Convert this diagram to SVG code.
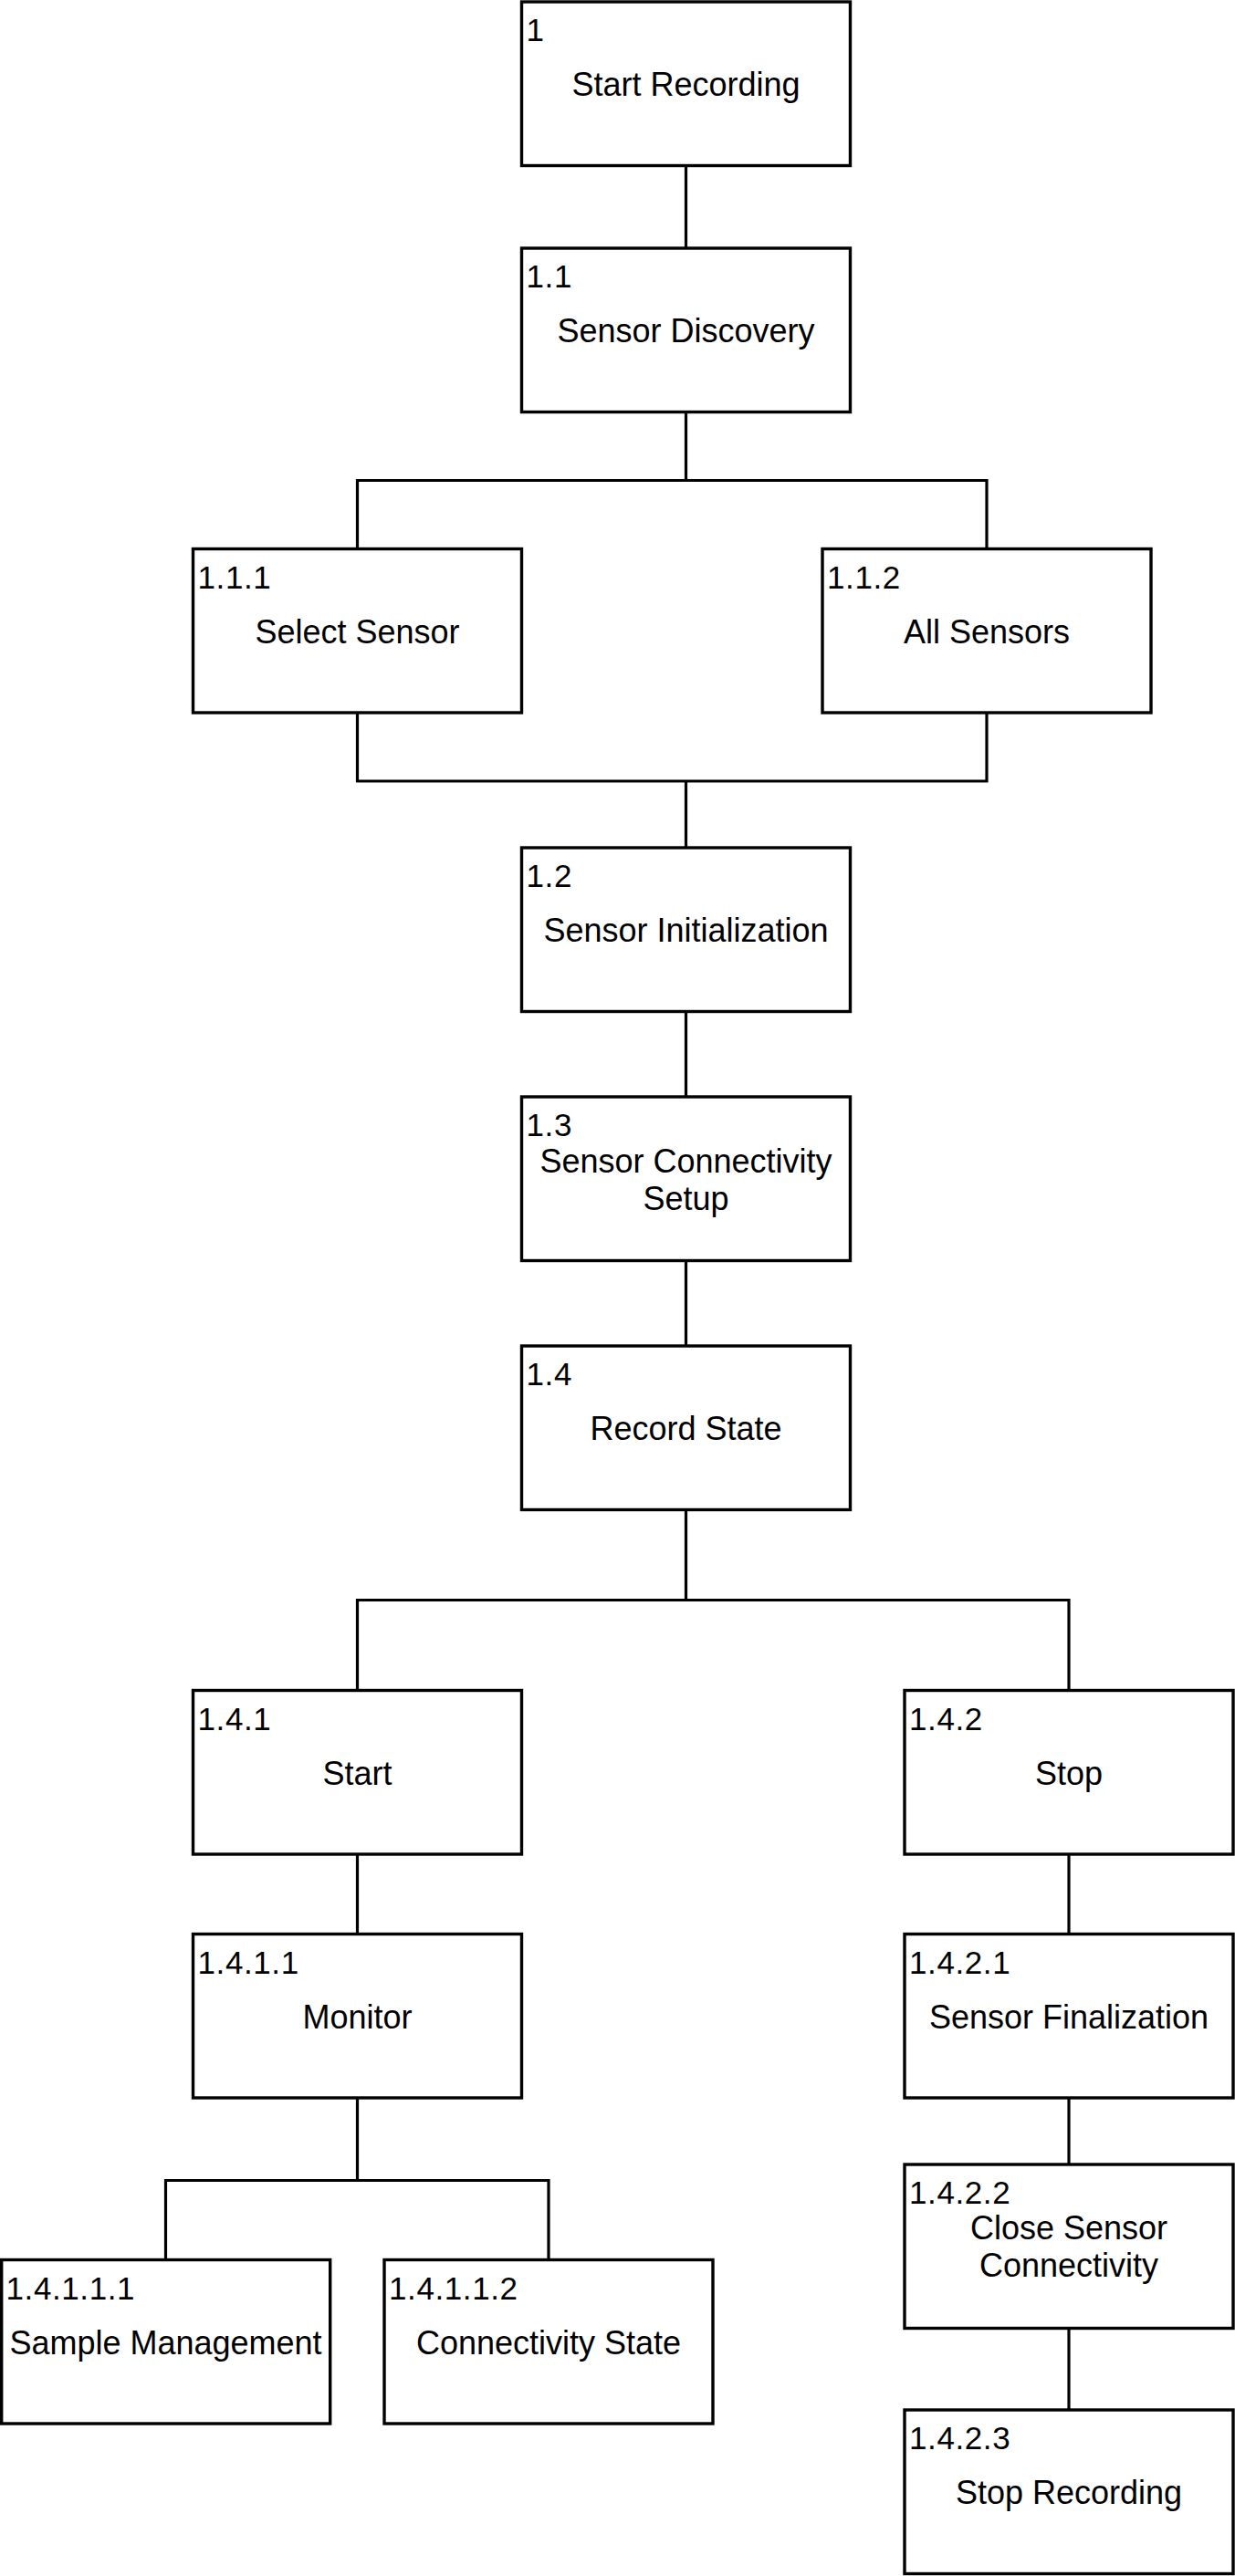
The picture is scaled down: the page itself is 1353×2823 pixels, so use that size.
<svg xmlns="http://www.w3.org/2000/svg" width="1353" height="2823" viewBox="0 0 1353 2823">
<style>
.box{fill:#fff;stroke:#000;stroke-width:3.4}
.con{fill:none;stroke:#000;stroke-width:3.2;stroke-linecap:square}
.num{font-family:"Liberation Sans",Arial,sans-serif;font-size:35px;letter-spacing:0.6px;fill:#000}
.lbl{font-family:"Liberation Sans",Arial,sans-serif;font-size:36px;fill:#000;text-anchor:middle}
</style>
<rect width="1353" height="2823" fill="#fff"/>
<g id="connectors">
<path class="con" d="M751.5 181.5V272"/>
<path class="con" d="M751.5 451.5V526.5M391.5 526.5H1081M391.5 526.5V601.5M1081 526.5V601.5"/>
<path class="con" d="M391.5 781V856H1081V781M751.5 856V929"/>
<path class="con" d="M751.5 1108.5V1202"/>
<path class="con" d="M751.5 1381.5V1475"/>
<path class="con" d="M751.5 1654.5V1753.5M391.5 1753.5H1171M391.5 1753.5V1852.5M1171 1753.5V1852.5"/>
<path class="con" d="M391.5 2032V2119.5"/>
<path class="con" d="M1171 2032V2119.5"/>
<path class="con" d="M391.5 2299V2389.5M181.5 2389.5H601M181.5 2389.5V2476.5M601 2389.5V2476.5"/>
<path class="con" d="M1171 2299V2372"/>
<path class="con" d="M1171 2551.5V2641"/>
</g>
<g id="n1"><rect class="box" x="571.5" y="2" width="360" height="179.5"/><text class="num" x="576.5" y="45">1</text><text class="lbl" x="751.5" y="105.25">Start Recording</text></g>
<g id="n1_1"><rect class="box" x="571.5" y="272" width="360" height="179.5"/><text class="num" x="576.5" y="315">1.1</text><text class="lbl" x="751.5" y="375.25">Sensor Discovery</text></g>
<g id="n1_1_1"><rect class="box" x="211.5" y="601.5" width="360" height="179.5"/><text class="num" x="216.5" y="644.5">1.1.1</text><text class="lbl" x="391.5" y="704.75">Select Sensor</text></g>
<g id="n1_1_2"><rect class="box" x="901" y="601.5" width="360" height="179.5"/><text class="num" x="906" y="644.5">1.1.2</text><text class="lbl" x="1081" y="704.75">All Sensors</text></g>
<g id="n1_2"><rect class="box" x="571.5" y="929" width="360" height="179.5"/><text class="num" x="576.5" y="972">1.2</text><text class="lbl" x="751.5" y="1032.25">Sensor Initialization</text></g>
<g id="n1_3"><rect class="box" x="571.5" y="1202" width="360" height="179.5"/><text class="num" x="576.5" y="1245">1.3</text><text class="lbl" x="751.5" y="1284.5">Sensor Connectivity</text><text class="lbl" x="751.5" y="1325.5">Setup</text></g>
<g id="n1_4"><rect class="box" x="571.5" y="1475" width="360" height="179.5"/><text class="num" x="576.5" y="1518">1.4</text><text class="lbl" x="751.5" y="1578.25">Record State</text></g>
<g id="n1_4_1"><rect class="box" x="211.5" y="1852.5" width="360" height="179.5"/><text class="num" x="216.5" y="1895.5">1.4.1</text><text class="lbl" x="391.5" y="1955.75">Start</text></g>
<g id="n1_4_2"><rect class="box" x="991" y="1852.5" width="360" height="179.5"/><text class="num" x="996" y="1895.5">1.4.2</text><text class="lbl" x="1171" y="1955.75">Stop</text></g>
<g id="n1_4_1_1"><rect class="box" x="211.5" y="2119.5" width="360" height="179.5"/><text class="num" x="216.5" y="2162.5">1.4.1.1</text><text class="lbl" x="391.5" y="2222.75">Monitor</text></g>
<g id="n1_4_2_1"><rect class="box" x="991" y="2119.5" width="360" height="179.5"/><text class="num" x="996" y="2162.5">1.4.2.1</text><text class="lbl" x="1171" y="2222.75">Sensor Finalization</text></g>
<g id="n1_4_2_2"><rect class="box" x="991" y="2372" width="360" height="179.5"/><text class="num" x="996" y="2415">1.4.2.2</text><text class="lbl" x="1171" y="2453.5">Close Sensor</text><text class="lbl" x="1171" y="2495">Connectivity</text></g>
<g id="n1_4_2_3"><rect class="box" x="991" y="2641" width="360" height="179.5"/><text class="num" x="996" y="2684">1.4.2.3</text><text class="lbl" x="1171" y="2744.25">Stop Recording</text></g>
<g id="n1_4_1_1_1"><rect class="box" x="1.7" y="2476.5" width="360" height="179.5"/><text class="num" x="6.5" y="2519.5">1.4.1.1.1</text><text class="lbl" x="181.5" y="2579.75">Sample Management</text></g>
<g id="n1_4_1_1_2"><rect class="box" x="421" y="2476.5" width="360" height="179.5"/><text class="num" x="426" y="2519.5">1.4.1.1.2</text><text class="lbl" x="601" y="2579.75">Connectivity State</text></g>
</svg>
